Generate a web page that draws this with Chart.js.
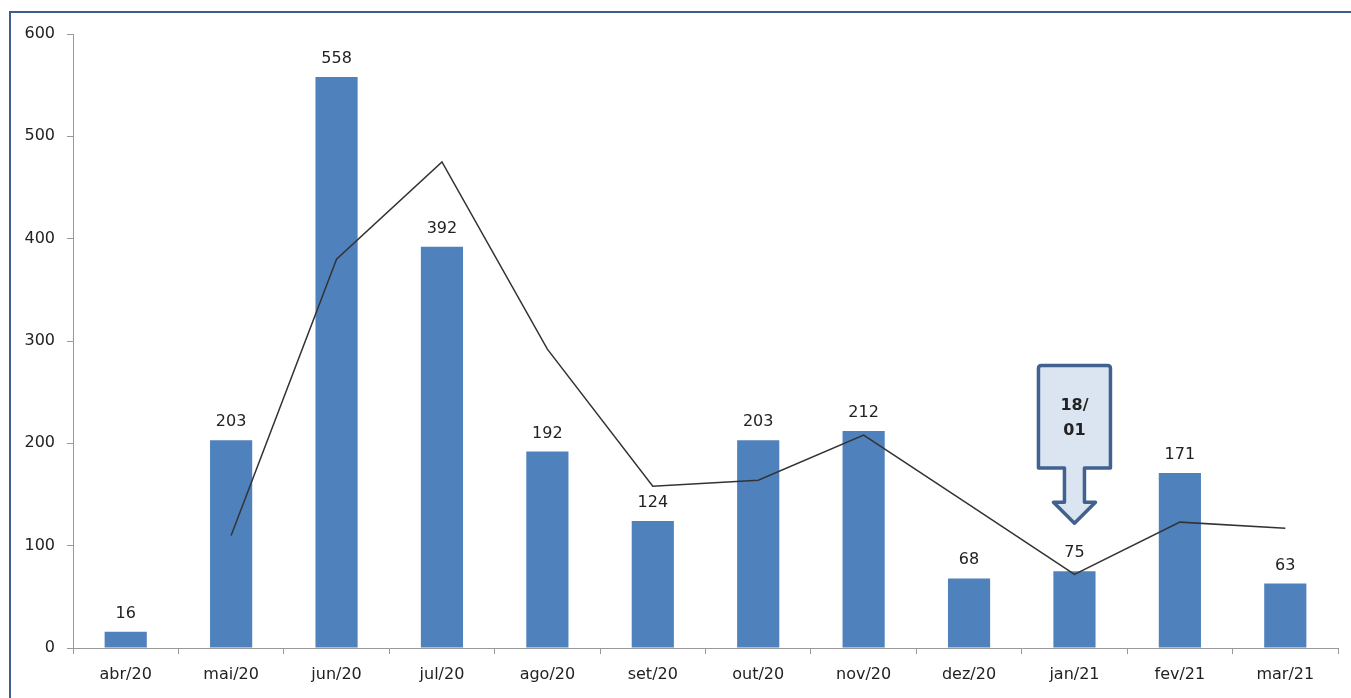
<!DOCTYPE html>
<html>
<head>
<meta charset="utf-8">
<script src="https://cdn.jsdelivr.net/npm/chart.js@4"></script>
<style>
  html, body { margin: 0; padding: 0; background: #fff; overflow: hidden; }
  #frame { position: absolute; left: 9px; top: 11px; width: 1400px; height: 760px; border: 2px solid #3c5d8e; box-sizing: border-box; }
  #wrap { position: absolute; left: 0; top: 0; width: 1351px; height: 698px; }
</style>
</head>
<body>
<div id="frame"></div>
<div id="wrap"><canvas id="chart"></canvas></div>
<script>
  const months = ['abr/20', 'mai/20', 'jun/20', 'jul/20', 'ago/20', 'set/20', 'out/20', 'nov/20', 'dez/20', 'jan/21', 'fev/21', 'mar/21'];
  const cases = [16, 203, 558, 392, 192, 124, 203, 212, 68, 75, 171, 63];
  const trend = [null, 110, 380, 475, 292, 158, 164, 208, 140, 72, 123, 117];
  const yTicks = [0, 100, 200, 300, 400, 500, 600];
  const calloutMonth = 'jan/21';
  const calloutText = ['18/', '01'];

  const FONT = '"DejaVu Sans", sans-serif';

  // value labels above each bar
  const barLabels = {
    id: 'barLabels',
    afterDatasetsDraw(chart) {
      const ctx = chart.ctx;
      const meta = chart.getDatasetMeta(1);
      ctx.save();
      ctx.font = '16px ' + FONT;
      ctx.fillStyle = '#222';
      ctx.textAlign = 'center';
      ctx.textBaseline = 'alphabetic';
      meta.data.forEach((bar, i) => {
        ctx.fillText(String(cases[i]), bar.x, bar.y - 14);
      });
      ctx.restore();
    }
  };

  // the "18/01" arrow callout
  const callout = {
    id: 'callout',
    afterDatasetsDraw(chart) {
      const { ctx, scales } = chart;
      const cx = scales.x.getPixelForValue(months.indexOf(calloutMonth));
      const top = scales.y.getPixelForValue(276);
      const bottom = scales.y.getPixelForValue(176);
      const tip = scales.y.getPixelForValue(122);
      const halfW = 36, stem = 10, head = 21, headH = 21, r = 3;
      ctx.save();
      ctx.beginPath();
      ctx.moveTo(cx - halfW + r, top);
      ctx.lineTo(cx + halfW - r, top);
      ctx.quadraticCurveTo(cx + halfW, top, cx + halfW, top + r);
      ctx.lineTo(cx + halfW, bottom);
      ctx.lineTo(cx + stem, bottom);
      ctx.lineTo(cx + stem, tip - headH);
      ctx.lineTo(cx + head, tip - headH);
      ctx.lineTo(cx, tip);
      ctx.lineTo(cx - head, tip - headH);
      ctx.lineTo(cx - stem, tip - headH);
      ctx.lineTo(cx - stem, bottom);
      ctx.lineTo(cx - halfW, bottom);
      ctx.lineTo(cx - halfW, top + r);
      ctx.quadraticCurveTo(cx - halfW, top, cx - halfW + r, top);
      ctx.closePath();
      ctx.fillStyle = '#dbe5f1';
      ctx.fill();
      ctx.lineWidth = 3.5;
      ctx.strokeStyle = '#416290';
      ctx.lineJoin = 'round';
      ctx.stroke();
      ctx.font = 'bold 16px ' + FONT;
      ctx.fillStyle = '#222';
      ctx.textAlign = 'center';
      ctx.textBaseline = 'middle';
      ctx.fillText(calloutText[0], cx, top + 40);
      ctx.fillText(calloutText[1], cx, top + 65);
      ctx.restore();
    }
  };

  new Chart(document.getElementById('chart'), {
    data: {
      labels: months,
      datasets: [
        {
          type: 'line',
          data: trend,
          borderColor: '#333',
          borderWidth: 1.5,
          pointRadius: 0,
          tension: 0,
          spanGaps: false,
          order: 0
        },
        {
          type: 'bar',
          data: cases,
          backgroundColor: '#4f81bd',
          barPercentage: 0.4,
          categoryPercentage: 1,
          order: 1
        }
      ]
    },
    options: {
      responsive: true,
      maintainAspectRatio: false,
      animation: false,
      layout: { padding: { top: 34, right: 13, left: 0, bottom: 0 } },
      plugins: { legend: { display: false }, tooltip: { enabled: false } },
      scales: {
        x: {
          offset: true,
          grid: { offset: true, drawOnChartArea: false, drawTicks: true, tickLength: 6, color: '#999' },
          border: { color: '#999', width: 1 },
          ticks: { color: '#222', font: { family: FONT, size: 16 }, padding: 11, maxRotation: 0 },
          afterFit(scale) { scale.height = 50; }
        },
        y: {
          min: 0,
          max: 600,
          afterBuildTicks(scale) { scale.ticks = yTicks.map(v => ({ value: v })); },
          grid: { drawOnChartArea: false, drawTicks: true, tickLength: 6, color: '#999' },
          border: { color: '#999', width: 1 },
          ticks: { color: '#222', font: { family: FONT, size: 16 }, padding: 12 },
          afterFit(scale) { scale.width = 73; }
        }
      }
    },
    plugins: [barLabels, callout]
  });
</script>
</body>
</html>
